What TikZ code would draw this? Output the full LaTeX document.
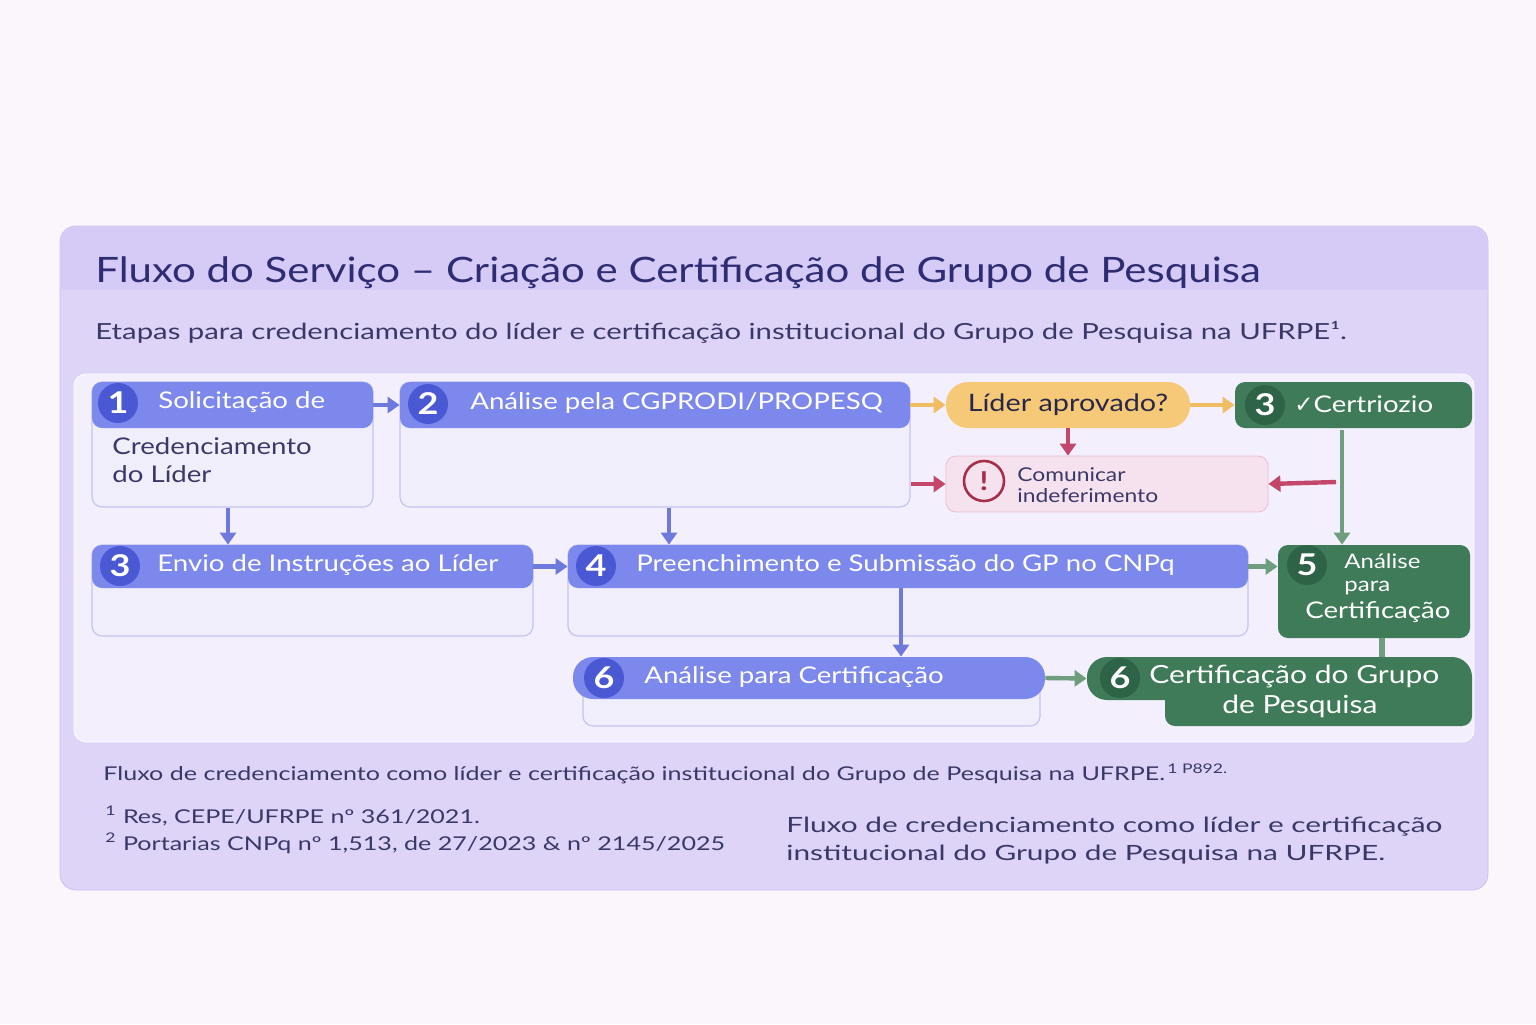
\documentclass[tikz,border=0pt]{standalone}
\usepackage{fontspec}
\setmainfont{Lato}[FakeStretch=1.2]
\newfontfamily\wide{Lato}[FakeStretch=1.32]
\newfontfamily\wider{Lato}[FakeStretch=1.42]
\newfontfamily\dejavu{DejaVu Sans}
\usetikzlibrary{fit,arrows.meta}
\definecolor{pagebg}{HTML}{FBF6FB}
\definecolor{panel}{HTML}{DDD4F8}
\definecolor{panelb}{HTML}{CBBFF0}
\definecolor{band}{HTML}{D5CBF6}
\definecolor{inner}{HTML}{F3EFFC}
\definecolor{hblue}{HTML}{7D88EC}
\definecolor{cblue}{HTML}{4A58D4}
\definecolor{bodyb}{HTML}{F1EEFC}
\definecolor{bordb}{HTML}{C3C3F0}
\definecolor{titc}{HTML}{2E2C72}
\definecolor{gr}{HTML}{3F7B58}
\definecolor{grc}{HTML}{2E6347}
\definecolor{grarr}{HTML}{6E9E7E}
\definecolor{yel}{HTML}{F5C978}
\definecolor{yarr}{HTML}{F0BE62}
\definecolor{pinkf}{HTML}{F6E2EE}
\definecolor{pinkb}{HTML}{E8BDD3}
\definecolor{redc}{HTML}{C2476B}
\definecolor{darkred}{HTML}{A33048}
\definecolor{txt}{HTML}{3A3868}
\begin{document}
\begin{tikzpicture}[x=0.5pt,y=-0.5pt,
 box/.style={draw=bordb,fill=bodyb,rounded corners=5pt,inner sep=0pt,line width=0.6pt},
 hdr/.style={fill=hblue,rounded corners=5pt,inner sep=0pt},
 ghdr/.style={fill=gr,rounded corners=5pt,inner sep=0pt},
 num/.style={circle,fill=cblue,text=white,minimum size=20pt,inner sep=0pt,font=\fontsize{15}{15}\selectfont\bfseries},
 gnum/.style={num,fill=grc},
 ht/.style={text=white,font=\fontsize{11.5}{13}\selectfont,anchor=west,inner sep=0pt},
 arr/.style={-{Triangle[length=6pt,width=8pt]},line width=2.2pt},
 ba/.style={arr,draw=cblue!80},
 ya/.style={arr,draw=yarr},
 ra/.style={arr,draw=redc},
 ga/.style={arr,draw=grarr},
 foot/.style={text=txt,anchor=west,inner sep=0pt}]
\useasboundingbox (0,0) rectangle (1536,1024);
\fill[pagebg] (0,0) rectangle (1536,1024);
% outer panel
\node[fit={(60,226)(1488,890)},draw=panelb,fill=panel,rounded corners=8pt,inner sep=0pt] (panel) {};
\fill[band,rounded corners=8pt] (61,227) rectangle (1487,305);
\fill[panel] (61,290) rectangle (1487,305);
\node[anchor=west,inner sep=0pt,text=titc,font=\fontsize{17.5}{20}\selectfont] (title) at (95,273) {Fluxo do Serviço – Criação e Certificação de Grupo de Pesquisa};
\node[anchor=west,inner sep=0pt,text=txt,font=\wide\fontsize{11.1}{13}\selectfont] (sub) at (95,332) {Etapas para credenciamento do líder e certificação institucional do Grupo de Pesquisa na UFRPE¹.};
\node[fit={(74,374)(1474,742)},fill=inner,draw=white,rounded corners=6pt,inner sep=0pt] (inner) {};
% box 1
\node[box,fit={(92,382)(373,507)}] (b1) {};
\node[hdr,fit={(92,382)(373,428)}] (h1) {};
\node[num] (n1) at (118,403) {1};
\node[ht] (t1) at (158,402) {Solicitação de};
\node[anchor=north west,inner sep=0pt,text=txt,align=left,font=\fontsize{11.5}{14}\selectfont] (d1) at (112,437) {Credenciamento\\do Líder};
% box 2
\node[box,fit={(400,382)(910,507)}] (b2) {};
\node[hdr,fit={(400,382)(910,428)}] (h2) {};
\node[num] (n2) at (428,404) {2};
\node[ht] (t2) at (470,403) {Análise pela CGPRODI/PROPESQ};
% decision
\node[fit={(946,382)(1190,428)},fill=yel,rounded corners=11pt,inner sep=0pt] (dec) {};
\node[text=txt!70!black,font=\fontsize{12}{14}\selectfont] at (dec.center) {Líder aprovado?};
% green 3
\node[ghdr,fit={(1235,382)(1472,428)}] (g3) {};
\node[gnum] (n3g) at (1265,405) {3};
\node[ht] (t3g) at (1294,404) {{\dejavu ✓}Certriozio};
% comunicar
\node[fit={(946,456)(1268,512)},fill=pinkf,draw=pinkb,rounded corners=5pt,inner sep=0pt] (com) {};
\node[circle,draw=darkred,line width=1.3pt,minimum size=20pt,inner sep=0pt,text=darkred,font=\bfseries\fontsize{13}{13}\selectfont] (ic) at (984,481) {!};
\node[anchor=west,inner sep=0pt,align=left,text=txt,font=\fontsize{9.5}{10.5}\selectfont] (tc) at (1017,485) {Comunicar\\indeferimento};
% row 2
\node[box,fit={(92,545)(533,636)}] (b3) {};
\node[hdr,fit={(92,545)(533,588)}] (h3) {};
\node[num] (n3) at (120,566) {3};
\node[ht] (t3) at (157,565) {Envio de Instruções ao Líder};
\node[box,fit={(568,545)(1248,636)}] (b4) {};
\node[hdr,fit={(568,545)(1248,588)}] (h4) {};
\node[num] (n4) at (596,566) {4};
\node[ht] (t4) at (636,565) {Preenchimento e Submissão do GP no CNPq};
\node[ghdr,fit={(1278,545)(1470,638)}] (g5) {};
\node[gnum] (n5) at (1307,565) {5};
\node[ht,anchor=north west,align=left,font=\fontsize{10}{11.5}\selectfont] (t5a) at (1344,553) {Análise\\para};
\node[ht] (t5b) at (1305,612) {Certificação};
% row 3
\node[box,fit={(583,680)(1040,726)}] (b6) {};
\node[hdr,rounded corners=10pt,fit={(573,657)(1045,699)}] (h6) {};
\node[num] (n6) at (604,678) {6};
\node[ht] (t6) at (644,677) {Análise para Certificação};
\node[ghdr,fit={(1165,670)(1472,726)}] (g6b) {};
\node[ghdr,rounded corners=10pt,fit={(1087,657)(1472,700)}] (g6) {};
\fill[gr] (1300,680) rectangle (1472,706);
\node[gnum] (n6g) at (1120,678) {6};
\node[ht,font=\fontsize{12.5}{14}\selectfont] (t6g) at (1149,677) {Certificação do Grupo};
\node[ht,font=\fontsize{12.5}{14}\selectfont] (t6g2) at (1222,706) {de Pesquisa};
% connectors
\draw[ba] (h1.east) -- (h2.west);
\draw[ya] (h2.east) -- (dec.west);
\draw[ya] (dec.east) -- (g3.west);
\draw[ra] (dec.south) -- (com.north-|dec.south);
\draw[ra] (b2.east|-com.west) -- (com.west);
\coordinate (gl) at (1342,430);
\coordinate (gj) at (1336,482);
\draw[ga] (gl) -- (g5.north-|gl);
\draw[ra] (gj) -- (com.east);
\draw[ba] (b1.south-|228,0) -- (h3.north-|228,0);
\draw[ba] (b2.south-|669,0) -- (h4.north-|669,0);
\draw[ba] (h3.east) -- (h4.west);
\draw[ga] (h4.east) -- (g5.west|-h4.east);
\draw[ba] (h4.south-|901,0) -- (h6.north-|901,0);
\draw[ga] (h6.east) -- (g6.west);
\draw[grarr,line width=3pt] (g5.south-|1382,0) -- (g6.north-|1382,0);
% footer
\node[foot,font=\wide\fontsize{9.5}{11}\selectfont] (f0) at (103,774) {Fluxo de credenciamento como líder e certificação institucional do Grupo de Pesquisa na UFRPE.\textsuperscript{\,1 P892.}};
\node[foot,font=\wide\fontsize{9.5}{11}\selectfont] (f1) at (105,816) {\textsuperscript{1} Res, CEPE/UFRPE nº 361/2021.};
\node[foot,font=\wide\fontsize{9.5}{11}\selectfont] (f2) at (105,843) {\textsuperscript{2} Portarias CNPq nº 1,513, de 27/2023 \& nº 2145/2025};
\node[foot,align=left,anchor=north west,font=\wider\fontsize{10.5}{14}\selectfont] (f3) at (786,817) {Fluxo de credenciamento como líder e certificação\\institucional do Grupo de Pesquisa na UFRPE.};
\end{tikzpicture}
\end{document}
